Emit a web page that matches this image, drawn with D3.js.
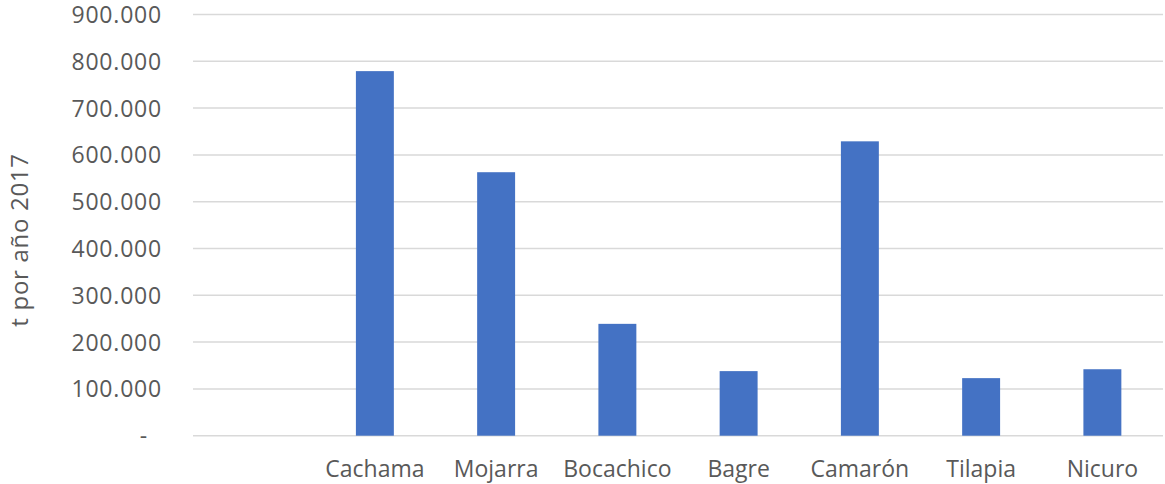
<!DOCTYPE html>
<html>
<head>
<meta charset="utf-8">
<script src="https://cdn.jsdelivr.net/npm/d3@7"></script>
<style>
  html, body { margin: 0; padding: 0; background: #fff; }
  svg text { font-family: "Open Sans", sans-serif; fill: #595959; }
</style>
</head>
<body>
<svg id="chart" width="1165" height="484"></svg>
<script>
// Production by species (tonnes per year, 2017)
const categories = ["", "Cachama", "Mojarra", "Bocachico", "Bagre", "Camarón", "Tilapia", "Nicuro"];
const values = [null, 779000, 563000, 239000, 138000, 629000, 123000, 142000];
const yTicks = [0, 100000, 200000, 300000, 400000, 500000, 600000, 700000, 800000, 900000];
const yTitle = "t por año 2017";

const svg = d3.select("#chart");
const margin = { left: 193, right: 2, top: 14.5, bottom: 48.3 };
const W = 1165, H = 484;

const x = d3.scaleBand()
  .domain(categories.map((c, i) => i))
  .range([margin.left, W - margin.right])
  .paddingInner(0.687)
  .paddingOuter(0.3435);

const y = d3.scaleLinear()
  .domain([0, 900000])
  .range([H - margin.bottom, margin.top]);

const fmt = v => v === 0 ? "-" : d3.format(",")(v).replace(/,/g, ".");

// horizontal gridlines
svg.append("g")
  .selectAll("line")
  .data(yTicks)
  .join("line")
  .attr("x1", margin.left)
  .attr("x2", W - margin.right)
  .attr("y1", d => y(d))
  .attr("y2", d => y(d))
  .attr("stroke", "#d9d9d9")
  .attr("stroke-width", 1.5);

// y axis labels
const yAxis = d3.axisLeft(y).tickValues(yTicks).tickFormat(fmt).tickSize(0).tickPadding(0);
const gy = svg.append("g")
  .attr("transform", `translate(${margin.left - 31},0)`)
  .call(yAxis);
gy.select(".domain").remove();
gy.selectAll("text")
  .attr("font-size", 23)
  .attr("letter-spacing", "0.8px")
  .attr("font-family", "Open Sans, sans-serif")
  .attr("fill", "#595959")
  .attr("dx", d => d === 0 ? -14 : 0)
  .attr("dy", "0.35em");

// bars
svg.append("g")
  .selectAll("rect")
  .data(values.map((v, i) => ({ v, i })).filter(d => d.v != null))
  .join("rect")
  .attr("x", d => x(d.i))
  .attr("width", x.bandwidth())
  .attr("y", d => y(d.v))
  .attr("height", d => y(0) - y(d.v))
  .attr("fill", "#4472C4");

// x axis labels
const xAxis = d3.axisBottom(x).tickFormat(i => categories[i]).tickSize(0).tickPadding(0);
const gx = svg.append("g")
  .attr("transform", `translate(0,${H - margin.bottom})`)
  .call(xAxis);
gx.select(".domain").remove();
gx.selectAll("text")
  .attr("font-size", 23)
  .attr("font-family", "Open Sans, sans-serif")
  .attr("fill", "#595959")
  .attr("dy", 0)
  .attr("y", 41);

// y axis title
svg.append("text")
  .attr("transform", `translate(28,240) rotate(-90)`)
  .attr("text-anchor", "middle")
  .attr("font-size", 24)
  .attr("letter-spacing", "0.7px")
  .text(yTitle);
</script>
</body>
</html>
